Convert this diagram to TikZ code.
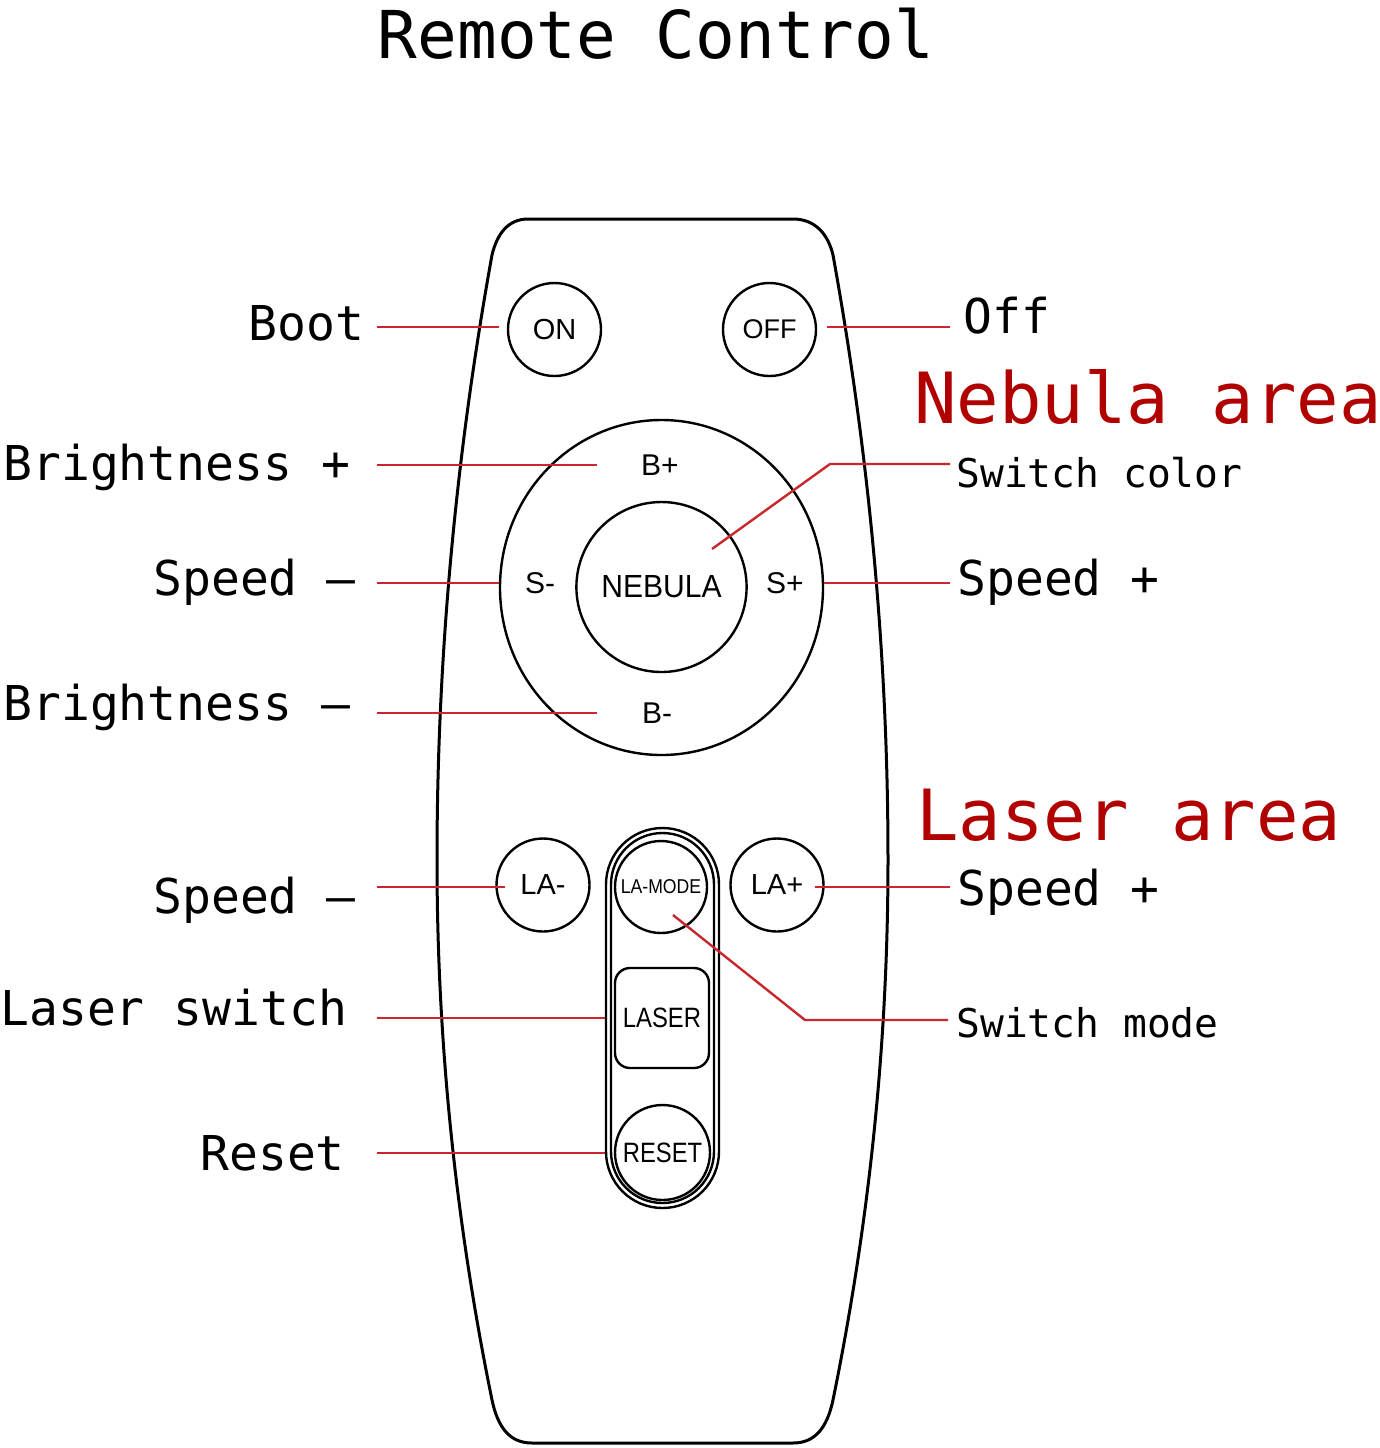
\documentclass[tikz,border=0pt]{standalone}
\usepackage{fontspec}
\setmainfont{DejaVu Sans Mono}
\newfontfamily\lblfont{DejaVu Sans Mono}
\newfontfamily\btnfont{Liberation Sans}
\newfontfamily\btnnarrow[FakeStretch=0.85]{Liberation Sans}
\newfontfamily\btnmid[FakeStretch=0.94]{Liberation Sans}
\newfontfamily\btnlm[FakeStretch=0.88]{Liberation Sans}
\usetikzlibrary{shapes.geometric}
\definecolor{lred}{RGB}{200,40,45}
\definecolor{dred}{RGB}{176,0,0}
\begin{document}
\begin{tikzpicture}[x=0.5pt,y=-0.5pt,
  outline/.style={draw=black, line width=1.5pt},
  btn/.style={circle, draw=black, line width=1.2pt, inner sep=0pt, font=\btnfont\fontsize{14.5}{14.5}\selectfont},
  keytext/.style={inner sep=0pt, font=\btnfont\fontsize{15}{15}\selectfont},
  lbl/.style={inner sep=0pt, anchor=base west, font=\lblfont\fontsize{24}{24}\selectfont},
  smalllbl/.style={inner sep=0pt, anchor=base west, font=\lblfont\fontsize{19.8}{20}\selectfont},
  area/.style={inner sep=0pt, anchor=base west, text=dred, font=\lblfont\fontsize{35.3}{35}\selectfont},
  wire/.style={draw=lred, line width=1.2pt},
]
\useasboundingbox (0,0) rectangle (1380,1448);
\fill[white] (0,0) rectangle (1380,1448);

% title
\node[inner sep=0pt, anchor=base, font=\lblfont\fontsize{33}{33}\selectfont] (title) at (656,58) {Remote Control};

% body
\draw[outline] (528,219) -- (793,219) .. controls (815,219) and (828,234) .. (833,255)
  .. controls (869.7,458.3) and (888,660) .. (888,860)
  .. controls (888,1040) and (869.7,1220) .. (833,1400)
  .. controls (827,1428) and (815,1443) .. (793,1443) -- (532,1443)
  .. controls (510,1443) and (498,1428) .. (492,1400)
  .. controls (455.3,1220) and (437,1040) .. (437,860)
  .. controls (437,660) and (455.3,458.3) .. (492,255)
  .. controls (497,234) and (508,219) .. (528,219) -- cycle;

% top buttons
\node[btn, minimum size=46.5pt] (on) at (554.5,329.5) {ON};
\node[btn, minimum size=46.5pt, font=\btnfont\fontsize{13.5}{13.5}\selectfont] (off) at (769.5,329.5) {OFF};

% nebula ring
\node[ellipse, draw=black, line width=1.2pt, minimum width=161.5pt, minimum height=167.5pt, inner sep=0pt] (ring) at (661.5,587.5) {};
\node[ellipse, draw=black, line width=1.2pt, minimum width=81.5pt, minimum height=85pt, inner sep=0pt, font=\btnmid\fontsize{16}{16}\selectfont] (neb) at (661.5,587) {NEBULA};
\node[keytext] (bp) at (660,465) {B+};
\node[keytext] (sm) at (540,583) {S-};
\node[keytext] (sp) at (785,583) {S+};
\node[keytext] (bm) at (657,713) {B-};

% laser area
\node[btn, minimum size=46.5pt] (lam) at (543,885) {LA-};
\node[btn, minimum size=46.5pt] (lap) at (777,885) {LA+};
\node[draw=black, line width=1.2pt, rectangle, rounded corners=28.25pt, minimum width=56.5pt, minimum height=190pt, inner sep=0pt] (pill) at (662.5,1018) {};
\node[draw=black, line width=1.2pt, rectangle, rounded corners=25.75pt, minimum width=51.5pt, minimum height=185pt, inner sep=0pt] (pillin) at (662.5,1018) {};
\node[btn, minimum size=46pt, font=\btnlm\fontsize{10}{10}\selectfont] (lmode) at (661,887) {LA-MODE};
\node[draw=black, line width=1.2pt, rectangle, rounded corners=7.5pt, minimum width=47pt, minimum height=50pt, inner sep=0pt, font=\btnnarrow\fontsize{14}{14}\selectfont] (laser) at (662,1018) {LASER};
\node[btn, minimum size=47.5pt, font=\btnnarrow\fontsize{14}{14}\selectfont] (reset) at (662.5,1152.5) {RESET};

% left labels
\node[lbl] (lboot) at (248,340) {Boot};
\node[lbl] (lbp) at (3,480) {Brightness +};
\node[lbl] (lsm) at (153,595) {Speed –};
\node[lbl] (lbm) at (3,720) {Brightness –};
\node[lbl] (llam) at (153,913) {Speed –};
\node[lbl] (llsw) at (0,1025) {Laser switch};
\node[lbl] (lres) at (200,1170) {Reset};

% right labels
\node[lbl] (loff) at (963,333) {Off};
\node[area] (anebula) at (914,423) {Nebula area};
\node[smalllbl] (lsc) at (956,487) {Switch color};
\node[lbl] (lsp) at (957,595) {Speed +};
\node[area] (alaser) at (916,840) {Laser area};
\node[lbl] (llap) at (957,905) {Speed +};
\node[smalllbl] (lsmode) at (956,1037) {Switch mode};

% wire end points
\coordinate (wboot) at (377,327);
\coordinate (woff) at (950,327);
\coordinate (wbp) at (377,465);
\coordinate (wbpin) at (597,465);
\coordinate (wsm) at (377,583);
\coordinate (wsp) at (950,583);
\coordinate (wbm) at (377,713);
\coordinate (wbmin) at (597,713);
\coordinate (wscin) at (712,549);
\coordinate (wscb) at (830,464);
\coordinate (wsc) at (950,464);
\coordinate (wlam) at (377,887);
\coordinate (wlap) at (950,887);
\coordinate (wmin) at (673,915);
\coordinate (wmb) at (805,1020);
\coordinate (wm) at (948,1020);
\coordinate (wlsw) at (377,1018);
\coordinate (wres) at (377,1153);

% wires
\draw[wire] (wboot) -- ([xshift=-4pt]on.west |- wboot);
\draw[wire] ([xshift=5pt]off.east |- woff) -- (woff);
\draw[wire] (wbp) -- (wbpin);
\draw[wire] (wsm) -- (ring.west |- wsm);
\draw[wire] (ring.east |- wsp) -- (wsp);
\draw[wire] (wbm) -- (wbmin);
\draw[wire] (wscin) -- (wscb) -- (wsc);
\draw[wire] (wlam) -- ([xshift=5pt]lam.west |- wlam);
\draw[wire] ([xshift=-5pt]lap.east |- wlap) -- (wlap);
\draw[wire] (wmin) -- (wmb) -- (wm);
\draw[wire] (wlsw) -- (pill.west |- wlsw);
\draw[wire] (wres) -- (pill.west |- wres);
\end{tikzpicture}
\end{document}
